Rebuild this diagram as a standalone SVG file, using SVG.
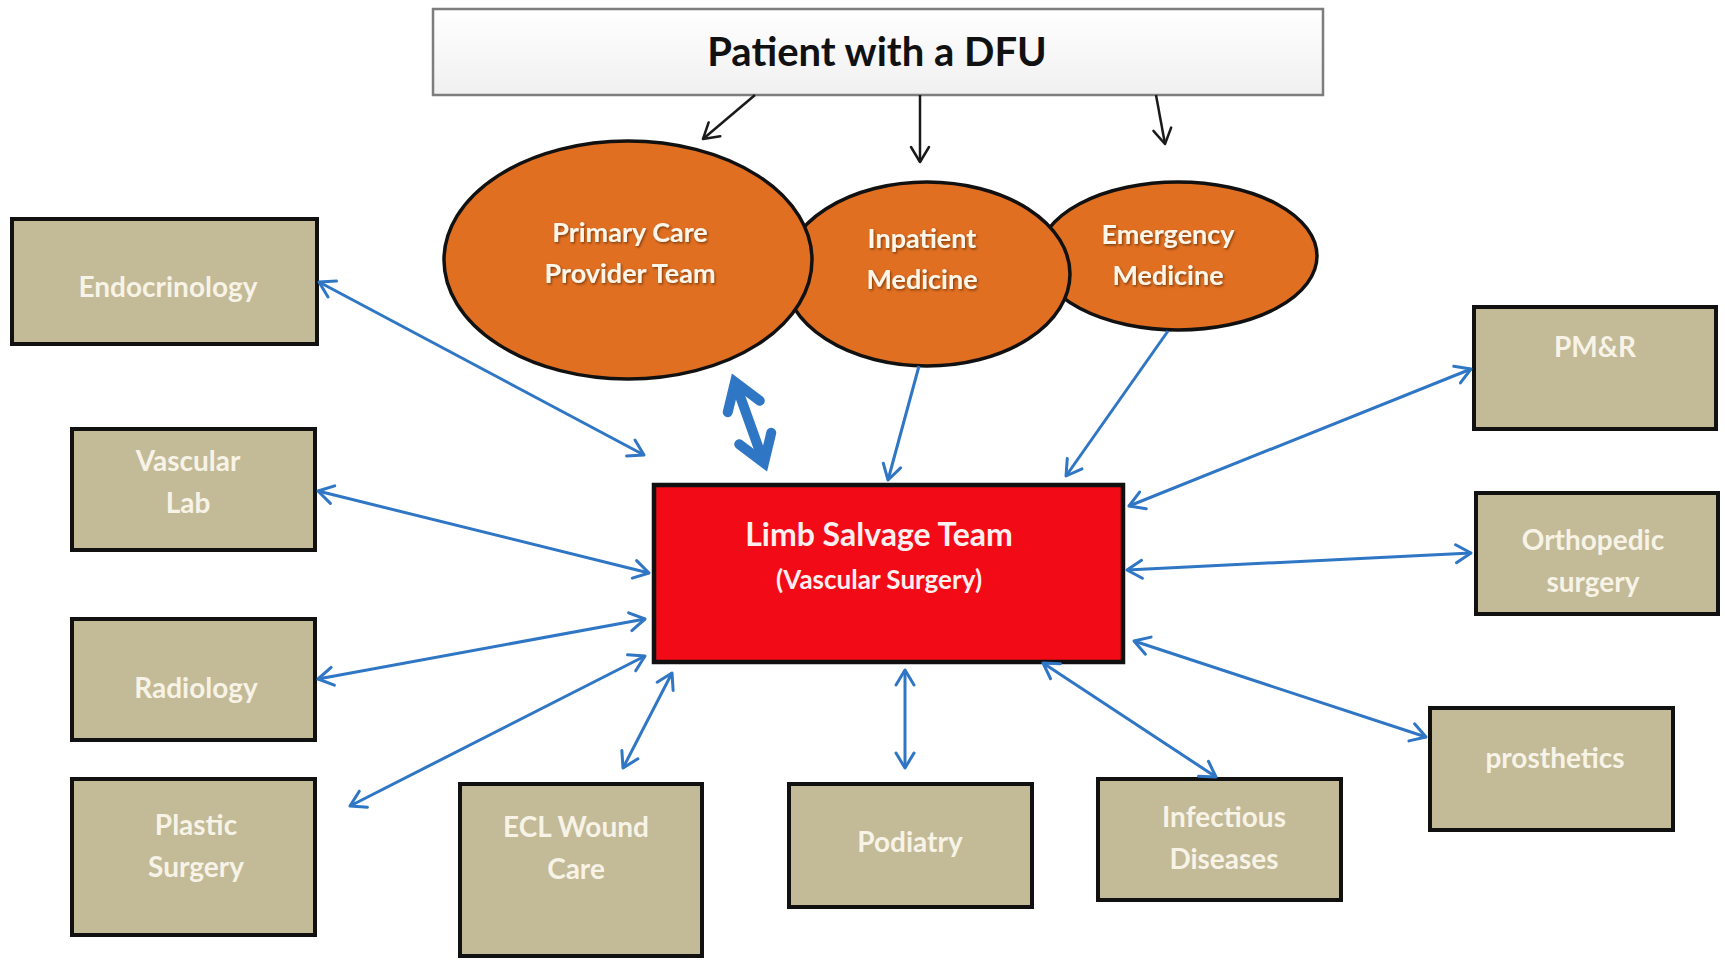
<svg xmlns="http://www.w3.org/2000/svg" width="1725" height="960" viewBox="0 0 1725 960">
<style>
  .tan { fill: #C3BA97; stroke: #111; stroke-width: 4; }
  .tt { font-family: Lato, "Liberation Sans", sans-serif; font-weight: 700; font-size: 28px; fill: #F7F3E6; text-anchor: middle; }
  .ell { fill: #E06F22; stroke: #111; stroke-width: 3.5; }
  .et { font-family: Lato, "Liberation Sans", sans-serif; font-weight: 700; font-size: 27px; fill: #FFF6EA; text-anchor: middle; filter: url(#sh); }
  .blue { stroke: #2F76C4; stroke-width: 3; fill: none; }
  .black { stroke: #1a1a1a; stroke-width: 2.5; fill: none; }
</style>
<defs>
  <filter id="sh" x="-10%" y="-20%" width="120%" height="150%">
    <feDropShadow dx="1.2" dy="1.5" stdDeviation="0.8" flood-color="#5a2a00" flood-opacity="0.7"/>
  </filter>
  <marker id="ab" markerUnits="userSpaceOnUse" viewBox="-20 -12 24 24" refX="0" refY="0" markerWidth="24" markerHeight="24" orient="auto-start-reverse">
    <path d="M-15,-9 L0,0 L-15,9" fill="none" stroke="#2F76C4" stroke-width="3" stroke-linecap="round" stroke-linejoin="round"/>
  </marker>
  <marker id="ak" markerUnits="userSpaceOnUse" viewBox="-20 -12 24 24" refX="0" refY="0" markerWidth="24" markerHeight="24" orient="auto-start-reverse">
    <path d="M-15,-9 L0,0 L-15,9" fill="none" stroke="#1a1a1a" stroke-width="2.5" stroke-linecap="round" stroke-linejoin="round"/>
  </marker>
  <marker id="athick" markerUnits="userSpaceOnUse" viewBox="-40 -30 50 60" refX="0" refY="0" markerWidth="50" markerHeight="60" orient="auto-start-reverse">
    <path d="M-26,-17 L0,0 L-26,17" fill="none" stroke="#2F76C4" stroke-width="10" stroke-linecap="round" stroke-linejoin="miter"/>
  </marker>
  <linearGradient id="topg" x1="0" y1="0" x2="0" y2="1">
    <stop offset="0" stop-color="#FFFFFF"/>
    <stop offset="1" stop-color="#F0F0F0"/>
  </linearGradient>
</defs>
<rect width="1725" height="960" fill="#FFFFFF"/>

<g id="patient">
  <rect x="433" y="9" width="890" height="86" fill="url(#topg)" stroke="#7d7d7d" stroke-width="2.5"/>
  <text x="877" y="66" font-family="Lato, 'Liberation Sans', sans-serif" font-weight="700" font-size="40" fill="#111" text-anchor="middle">Patient with a DFU</text>
</g>

<g id="emergency">
  <ellipse class="ell" cx="1178" cy="256" rx="139" ry="74"/>
  <text class="et" x="1168" y="244">Emergency</text>
  <text class="et" x="1168" y="285">Medicine</text>
</g>
<g id="inpatient">
  <ellipse class="ell" cx="927" cy="274" rx="143" ry="92"/>
  <text class="et" x="922" y="248">Inpatient</text>
  <text class="et" x="922" y="289">Medicine</text>
</g>
<g id="primary">
  <ellipse class="ell" cx="628" cy="260" rx="184" ry="119"/>
  <text class="et" x="630" y="242">Primary Care</text>
  <text class="et" x="630" y="283">Provider Team</text>
</g>

<g id="limb">
  <rect x="654" y="485" width="469" height="177" fill="#F20A17" stroke="#111" stroke-width="4.5"/>
  <text x="879" y="546" font-family="Lato, 'Liberation Sans', sans-serif" font-weight="700" font-size="32" fill="#FFEFEF" text-anchor="middle">Limb Salvage Team</text>
  <text x="879" y="589" font-family="Lato, 'Liberation Sans', sans-serif" font-weight="700" font-size="26" fill="#FFEFEF" text-anchor="middle">(Vascular Surgery)</text>
</g>

<g id="endocrinology">
  <rect class="tan" x="12" y="219" width="305" height="125"/>
  <text class="tt" x="168" y="297">Endocrinology</text>
</g>
<g id="vascularlab">
  <rect class="tan" x="72" y="429" width="243" height="121"/>
  <text class="tt" x="188" y="471">Vascular</text>
  <text class="tt" x="188" y="513">Lab</text>
</g>
<g id="radiology">
  <rect class="tan" x="72" y="619" width="243" height="121"/>
  <text class="tt" x="196" y="698">Radiology</text>
</g>
<g id="plastic">
  <rect class="tan" x="72" y="779" width="243" height="156"/>
  <text class="tt" x="196" y="835">Plastic</text>
  <text class="tt" x="196" y="877">Surgery</text>
</g>
<g id="ecl">
  <rect class="tan" x="460" y="784" width="242" height="172"/>
  <text class="tt" x="576" y="837">ECL Wound</text>
  <text class="tt" x="576" y="879">Care</text>
</g>
<g id="podiatry">
  <rect class="tan" x="789" y="784" width="243" height="123"/>
  <text class="tt" x="910" y="852">Podiatry</text>
</g>
<g id="infectious">
  <rect class="tan" x="1098" y="779" width="243" height="121"/>
  <text class="tt" x="1224" y="827">Infectious</text>
  <text class="tt" x="1224" y="869">Diseases</text>
</g>
<g id="prosthetics">
  <rect class="tan" x="1430" y="708" width="243" height="122"/>
  <text class="tt" x="1555" y="768">prosthetics</text>
</g>
<g id="orthopedic">
  <rect class="tan" x="1476" y="493" width="242" height="121"/>
  <text class="tt" x="1593" y="550">Orthopedic</text>
  <text class="tt" x="1593" y="592">surgery</text>
</g>
<g id="pmr">
  <rect class="tan" x="1474" y="307" width="242" height="122"/>
  <text class="tt" x="1595" y="357">PM&amp;R</text>
</g>

<g id="connectors">
  <line class="black" x1="755" y1="95" x2="703" y2="139" marker-end="url(#ak)"/>
  <line class="black" x1="920" y1="95" x2="920" y2="162" marker-end="url(#ak)"/>
  <line class="black" x1="1156" y1="95" x2="1165" y2="144" marker-end="url(#ak)"/>

  <line class="blue" x1="919" y1="366" x2="888" y2="480" marker-end="url(#ab)"/>
  <line class="blue" x1="1168" y1="331" x2="1066" y2="476" marker-end="url(#ab)"/>
  <line stroke="#2F76C4" stroke-width="10" x1="735" y1="382" x2="764" y2="463" marker-start="url(#athick)" marker-end="url(#athick)"/>

  <line class="blue" x1="319" y1="282" x2="644" y2="455" marker-start="url(#ab)" marker-end="url(#ab)"/>
  <line class="blue" x1="318" y1="491" x2="649" y2="573" marker-start="url(#ab)" marker-end="url(#ab)"/>
  <line class="blue" x1="318" y1="679" x2="645" y2="619" marker-start="url(#ab)" marker-end="url(#ab)"/>
  <line class="blue" x1="350" y1="806" x2="645" y2="656" marker-start="url(#ab)" marker-end="url(#ab)"/>
  <line class="blue" x1="623" y1="768" x2="672" y2="673" marker-start="url(#ab)" marker-end="url(#ab)"/>
  <line class="blue" x1="905" y1="670" x2="905" y2="768" marker-start="url(#ab)" marker-end="url(#ab)"/>
  <line class="blue" x1="1043" y1="663" x2="1216" y2="777" marker-start="url(#ab)" marker-end="url(#ab)"/>
  <line class="blue" x1="1134" y1="641" x2="1426" y2="737" marker-start="url(#ab)" marker-end="url(#ab)"/>
  <line class="blue" x1="1127" y1="570" x2="1471" y2="553" marker-start="url(#ab)" marker-end="url(#ab)"/>
  <line class="blue" x1="1129" y1="506" x2="1471" y2="369" marker-start="url(#ab)" marker-end="url(#ab)"/>
</g>
</svg>
